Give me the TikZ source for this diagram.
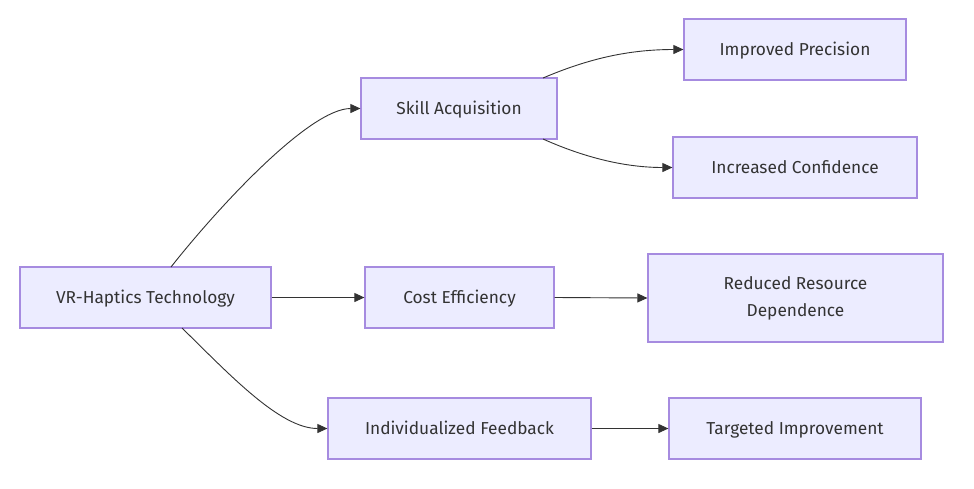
\documentclass[tikz,border=0pt]{standalone}
\usepackage{fontspec}
\setmainfont{Fira Sans}
\usetikzlibrary{arrows.meta}
\definecolor{boxfill}{HTML}{ECECFF}
\definecolor{boxline}{HTML}{A68BE0}
\definecolor{txt}{HTML}{333333}
\definecolor{edge}{HTML}{333333}
\tikzset{
  box/.style={draw=boxline, line width=1.2pt, fill=boxfill, text=txt, inner sep=0pt, align=center, font=\fontsize{17.3}{27}\selectfont},
  oneline/.style={box, text height=14pt, text depth=2pt},
  conn/.style={draw=edge, line width=0.9pt, -{Triangle[length=10pt,width=9pt]}}
}
\begin{document}
\begin{tikzpicture}[x=1pt,y=-1pt]
\useasboundingbox (0,0) rectangle (974,488);
\node[oneline, minimum width=251pt, minimum height=61pt] (vr) at (145.5,297.5) {VR-Haptics Technology};
\node[oneline, minimum width=196pt, minimum height=61pt] (skill) at (459,108.5) {Skill Acquisition};
\node[oneline, minimum width=189pt, minimum height=61pt] (cost) at (459.5,297.5) {Cost Efficiency};
\node[oneline, minimum width=263pt, minimum height=61pt] (feed) at (459.5,428.5) {Individualized Feedback};
\node[oneline, minimum width=222pt, minimum height=61pt] (prec) at (795,49.5) {Improved Precision};
\node[oneline, minimum width=244pt, minimum height=61pt] (conf) at (795,167.5) {Increased Confidence};
\node[box, minimum width=295pt, minimum height=88pt] (res) at (795.5,298) {Reduced Resource\\Dependence};
\node[oneline, minimum width=252pt, minimum height=61pt] (targ) at (795,428.5) {Targeted Improvement};

\coordinate (vrtop) at (171,267);
\coordinate (vrbot) at (182,328);
\coordinate (sktop) at (543,78);
\coordinate (skbot) at (543,139);

\draw[conn] (vrtop) .. controls (220,205) and (310,108.5) .. (skill.west);
\draw[conn] (vrbot) .. controls (230,375) and (280,428.5) .. (feed.west);
\draw[conn] (sktop) .. controls (590,58) and (630,49.5) .. (prec.west);
\draw[conn] (skbot) .. controls (590,160) and (630,167.5) .. (conf.west);
\draw[conn] (vr.east) -- (cost.west);
\draw[conn] (cost.east) -- (res.west);
\draw[conn] (feed.east) -- (targ.west);
\end{tikzpicture}
\end{document}
